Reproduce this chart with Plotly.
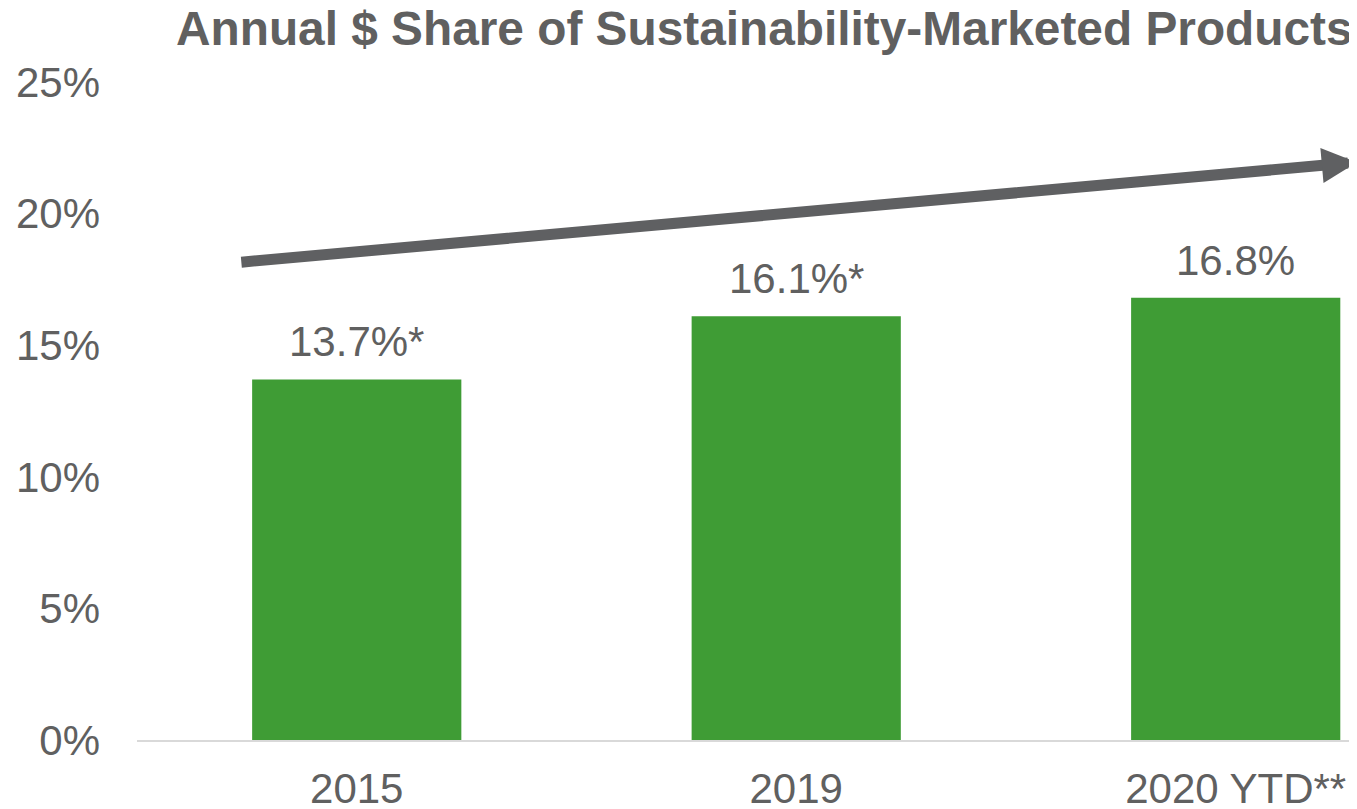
import plotly.graph_objects as go

categories = ["2015", "2019", "2020 YTD**"]
values = [13.7, 16.1, 16.8]
value_labels = ["13.7%*", "16.1%*", "16.8%"]
tick_vals = [0, 5, 10, 15, 20, 25]
tick_text = ["0%", "5%", "10%", "15%", "20%", "25%"]
title_text = "Annual $ Share of Sustainability-Marketed Products"
trend_start = (-0.266, 18.15)
trend_end = (2.276, 21.95)

TEXT = "#606060"
FONT = "Liberation Sans, Arial, sans-serif"

# page body has an 8px margin, so the figure is drawn 8px smaller and offset
W, H = 1349, 801

fig = go.Figure()
fig.add_trace(go.Bar(
    x=categories, y=values,
    marker=dict(color="#3f9c35", line=dict(width=0)),
    hoverinfo="skip",
))

for i, (v, t) in enumerate(zip(values, value_labels)):
    fig.add_annotation(x=i, y=v, text=t, showarrow=False, yanchor="bottom",
                       yshift=12, font=dict(size=42, color=TEXT, family=FONT))

fig.add_annotation(
    x=trend_end[0], y=trend_end[1], ax=trend_start[0], ay=trend_start[1],
    xref="x", yref="y", axref="x", ayref="y", text="", showarrow=True,
    arrowhead=2, arrowwidth=11, arrowsize=0.64, arrowcolor="#5f6062",
)

fig.update_layout(
    width=W, height=H,
    margin=dict(l=129, r=0, t=74, b=69, autoexpand=False),
    paper_bgcolor="white", plot_bgcolor="white",
    showlegend=False, bargap=0.524,
    font=dict(family=FONT, color=TEXT, size=42),
    title=dict(text="<b>" + title_text + "</b>", x=168 / W, xref="container",
               xanchor="left", y=1 - 20.5 / H, yref="container", yanchor="middle",
               font=dict(size=47.8, color=TEXT, family=FONT)),
)
fig.update_xaxes(type="category", range=[-0.5, 2.276], showline=True,
                 linecolor="#d9d9d9", linewidth=2, showgrid=False, zeroline=False,
                 ticks="", tickfont=dict(size=42, color=TEXT), ticklabelstandoff=11,
                 automargin=False)
fig.update_yaxes(range=[0, 25], tickvals=tick_vals, ticktext=tick_text,
                 showgrid=False, zeroline=False, showline=False, ticks="",
                 tickfont=dict(size=42, color=TEXT), ticklabelstandoff=36,
                 automargin=False)

fig.write_html("out.html")
